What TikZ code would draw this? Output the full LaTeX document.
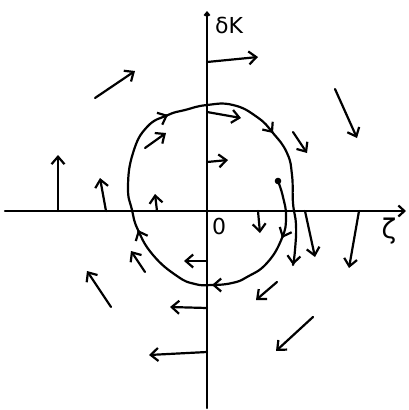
\documentclass[tikz,border=0pt]{standalone}
\usepackage{fontspec}
\setmainfont{DejaVu Sans}
\usetikzlibrary{arrows.meta}
\begin{document}
\begin{tikzpicture}[x=1pt,y=-1pt, line width=2.2pt, line cap=round, line join=round,
  arr/.style={-{Straight Barb[length=7.5pt,width=13pt]}},
  tip/.style={-{Straight Barb[length=7.5pt,width=13pt]}},
  lab/.style={font=\fontsize{22}{22}\selectfont, inner sep=0pt}]
\useasboundingbox (0,0) rectangle (409,410);
% axes
\draw[-{Straight Barb[length=6pt,width=11pt]}] (5,211) -- (406,211);
\draw[-{Straight Barb[length=3pt,width=5pt]}] (207,408) -- (207,11);
\node[lab] (dk) at (229,25) {δK};
\node[lab] (o) at (219,226) {0};
\node[lab, font=\fontsize{27}{27}\selectfont] (zeta) at (389,231) {ζ};
% field arrows
\draw[arr] (95,98) -- (135,71);
\draw[arr] (207,62) -- (258,57);
\draw[arr] (335,89) -- (357,138);
\draw[arr] (207,112) -- (241,118);
\draw[arr] (293,132) -- (307,153);
\draw[arr] (207,162) -- (228,160);
\draw[arr] (145,148) -- (166,133);
\draw[arr] (58,211) -- (58,155);
\draw[arr] (106,211) -- (100,178);
\draw[arr] (157,211) -- (155,194);
\draw[arr] (258,211) -- (260,233);
\draw[arr] (305,211) -- (315,257);
\draw[arr] (359,211) -- (349,268);
\draw[arr] (277,282) -- (256,300);
\draw[arr] (313,317) -- (276,351);
\draw[arr] (207,261) -- (184,261);
\draw[arr] (207,308) -- (170,307);
\draw[arr] (207,352) -- (149,355);
\draw[arr] (111,307) -- (87,271);
\draw[arr] (145,272) -- (131,251);
% trajectory
\fill (278,181) circle (3.3pt);
\draw plot[smooth, tension=0.8] coordinates {
 (278,181) (283,197) (286,217) (282,238) (267,263) (247,277) (232,283)
 (212,285) (195,284) (177,276) (153,255) (138,230) (132,210) (128,187)
 (133,153) (147,127) (168,115) (185,110) (207,105) (233,105) (257,117)
 (273,133) (287,153) (292,175) (293,203) (296,225) (295,250) (293,265)};
\draw[tip] (282.4,237.1) -- (282,238);
\draw[tip] (213,285) -- (212,285);
\draw[tip] (138.4,230.9) -- (138,230);
\draw[tip] (167.1,115.4) -- (168,115);
\draw[tip] (272.4,132.2) -- (273,133);
\draw[tip] (293.1,264) -- (293,265);
\end{tikzpicture}
\end{document}
